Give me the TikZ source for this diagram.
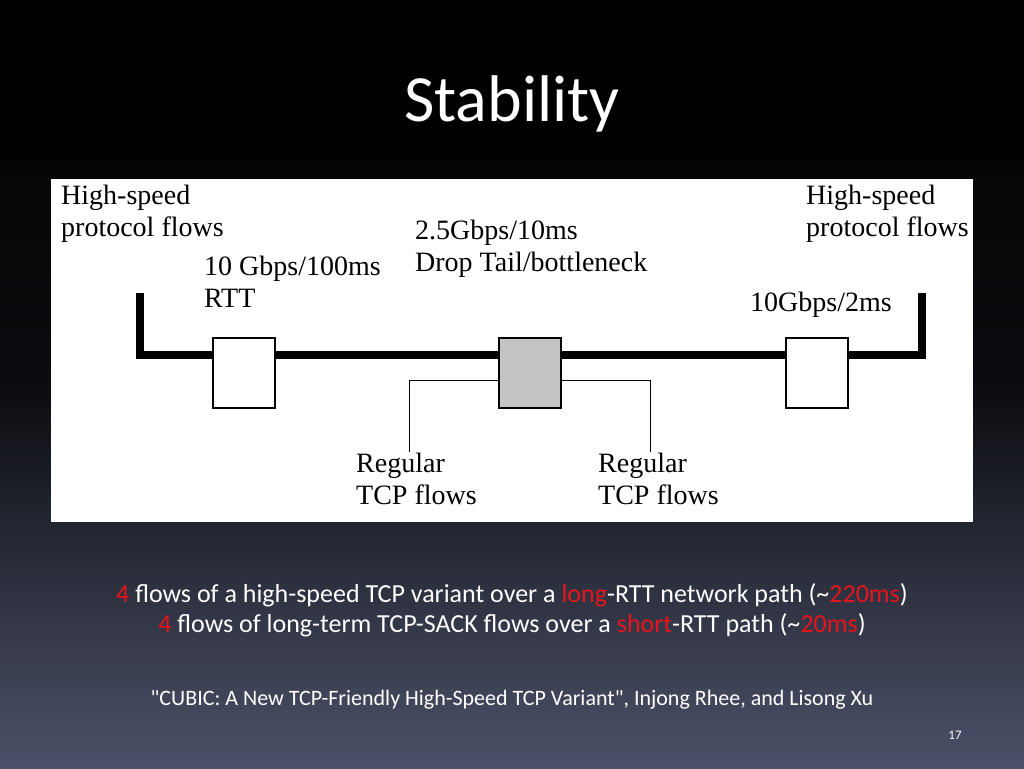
\documentclass[tikz,border=0pt]{standalone}
\usepackage{fontspec}
\setmainfont{Carlito}[Ligatures=TeXOff]
\newfontfamily\diagfont{Liberation Serif}
\usetikzlibrary{positioning}
\definecolor{slidebot}{HTML}{4C5169}
\definecolor{hilite}{HTML}{E8141C}
\definecolor{boxgrey}{HTML}{C4C4C4}
\tikzset{
  lbl/.style={anchor=north west, inner sep=0pt, align=left, font=\diagfont\fontsize{28}{32}\selectfont},
  router/.style={draw, line width=1.5pt, minimum width=62pt, minimum height=70pt, inner sep=0pt},
  link/.style={line width=1pt},
  trunk/.style={line width=8pt, line cap=rect}
}
\newcommand{\hl}[1]{\textcolor{hilite}{#1}}
\begin{document}
\begin{tikzpicture}[x=1pt,y=-1pt]
\shade[top color=black, bottom color=slidebot, middle color=black!85!slidebot] (0,0) rectangle (1024,768);
\fill[black] (0,0) rectangle (1024,160);
\useasboundingbox (0,0) rectangle (1024,768);
\node (title) at (512,104) [text=white, font=\fontsize{66}{74}\selectfont] {Stability};
\fill[white] (51,179) rectangle (973,522);
% bottleneck path
\coordinate (lt) at (140,297);
\coordinate (rt) at (922,297);
\draw[trunk] (lt) -- (140,355) -- (922,355) -- (rt);
\node (src)  at (244,373) [router, fill=white] {};
\node (bott) at (530,373) [router, fill=boxgrey] {};
\node (dst)  at (817,373) [router, fill=white] {};
\coordinate (lreg) at (409,452);
\coordinate (rreg) at (650,452);
\draw[link] (bott.west |- 0,380) -| (lreg);
\draw[link] (bott.east |- 0,380) -| (rreg);
% labels
\node (hsl) at (61,185) [lbl] {High-speed\\protocol flows};
\node (hsr) at (806,185) [lbl] {High-speed\\protocol flows};
\node (lrtt) at (204,256) [lbl] {10 Gbps/100ms\\RTT};
\node (brtt) at (415,220) [lbl] {2.5Gbps/10ms\\Drop Tail/bottleneck};
\node (rrtt) at (750,292) [lbl] {10Gbps/2ms};
\node (regl) at (356,453) [lbl] {Regular\\TCP flows};
\node (regr) at (598,453) [lbl] {Regular\\TCP flows};
% caption
\node (capa) at (512,595) [text=white, font=\fontsize{26}{30}\selectfont] {\hl{4} flows of a high-speed TCP variant over a \hl{long}-RTT network path (\textasciitilde\hl{220ms})};
\node (capb) [below=0pt of capa, text=white, font=\fontsize{26}{30}\selectfont] {\hl{4} flows of long-term TCP-SACK flows over a \hl{short}-RTT path (\textasciitilde\hl{20ms})};
\node (cite) at (512,700) [text=white, font=\fontsize{22}{26}\selectfont] {"CUBIC: A New TCP-Friendly High-Speed TCP Variant", Injong Rhee, and Lisong Xu};
\node (page) at (955,735) [text=white, font=\fontsize{13}{15}\selectfont] {17};
\end{tikzpicture}
\end{document}
